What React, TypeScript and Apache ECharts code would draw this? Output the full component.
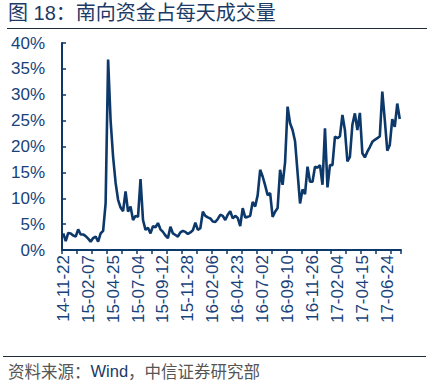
import React, { useEffect, useRef } from 'react';
import * as echarts from 'echarts';

const titleText = '图 18：南向资金占每天成交量';
const sourceLabel = '资料来源：';
const sourceWind = 'Wind';
const sourceRest = '，中信证券研究部';

const tickLabels = [
  '14-11-22', '15-02-07', '15-04-25', '15-07-04', '15-09-12', '15-11-28', '16-02-06',
  '16-04-23', '16-07-02', '16-09-10', '16-11-26', '17-02-04', '17-04-15', '17-06-24',
];

// Southbound share of daily turnover (%), weekly
const shareValues = [
  3.2, 1.7, 3.3, 3.2, 2.8, 2.6, 4.0, 3.0, 3.0, 2.7,
  2.2, 1.6, 2.3, 2.6, 1.6, 3.2, 3.7, 9.0, 36.8, 25.0,
  18.0, 13.0, 9.7, 8.2, 7.5, 11.3, 7.4, 8.4, 5.8, 6.6,
  6.4, 13.7, 5.8, 3.9, 4.3, 3.2, 4.6, 4.4, 5.2, 4.0,
  3.5, 2.8, 2.3, 4.5, 3.2, 2.9, 2.6, 3.4, 3.7, 3.5,
  3.1, 3.4, 3.8, 5.3, 3.9, 4.2, 7.4, 6.6, 6.3, 6.1,
  5.5, 5.4, 6.0, 6.8, 6.6, 5.8, 6.8, 7.5, 6.1, 6.6,
  6.2, 4.6, 8.1, 6.3, 6.4, 6.6, 9.3, 8.4, 10.6, 15.5,
  14.2, 12.5, 10.6, 11.0, 6.4, 7.4, 8.1, 15.5, 12.6, 17.0,
  27.7, 24.5, 23.2, 21.0, 15.0, 9.0, 11.7, 10.8, 16.1, 13.2,
  13.2, 16.1, 15.9, 16.4, 12.6, 23.5, 12.1, 16.4, 16.4, 21.9,
  21.6, 22.0, 26.1, 23.2, 17.1, 18.0, 24.2, 26.4, 23.2, 26.5,
  18.7, 17.9, 19.0, 19.9, 20.9, 21.3, 21.6, 22.0, 30.6, 25.1,
  19.2, 20.3, 25.3, 23.8, 28.3, 25.3,
];

const yMin = 0;
const yMax = 40;
const yStep = 5;
const labelEvery = 10;
const tickEvery = 6;

const NAVY = '#0c386a';
const LABEL = '#17427a';

export default function App() {
  const ref = useRef<HTMLDivElement>(null);

  useEffect(() => {
    if (!ref.current) return;
    const chart = echarts.init(ref.current, null, { renderer: 'svg' });
    chart.setOption({
      animation: false,
      backgroundColor: '#ffffff',
      grid: { left: 62, right: 43, top: 43, bottom: 133, containLabel: false },
      graphic: [
        {
          type: 'text',
          left: 8,
          top: 3,
          style: {
            text: titleText,
            fill: '#1b3a66',
            font: 'normal 20px "Liberation Sans", "Noto Sans CJK SC", sans-serif',
          },
        },
        {
          type: 'line',
          shape: { x1: 7, y1: 28.5, x2: 427, y2: 28.5 },
          style: { stroke: '#1d2b3a', lineWidth: 1 },
        },
        {
          type: 'line',
          shape: { x1: 3, y1: 356.5, x2: 426, y2: 356.5 },
          style: { stroke: '#1d2b3a', lineWidth: 1 },
        },
        {
          type: 'text',
          left: 8,
          top: 362,
          style: {
            text: '{g|' + sourceLabel + '}{b|' + sourceWind + '}{g|' + sourceRest + '}',
            rich: {
              g: { fill: '#555555', fontSize: 16.5, fontFamily: '"Noto Sans CJK SC", sans-serif' },
              b: { fill: '#1b3a66', fontSize: 16.5, fontFamily: '"Liberation Sans", sans-serif' },
            },
          },
        },
      ],
      xAxis: {
        type: 'category',
        boundaryGap: true,
        data: shareValues.map((_, i) => String(i)),
        axisLine: { show: true, lineStyle: { color: NAVY, width: 2 } },
        axisTick: {
          show: true,
          interval: tickEvery - 1,
          alignWithLabel: false,
          length: 4,
          lineStyle: { color: NAVY, width: 1.5 },
        },
        axisLabel: {
          interval: labelEvery - 1,
          rotate: 90,
          margin: 5,
          color: LABEL,
          fontSize: 17,
          fontFamily: '"Liberation Sans", Arial, sans-serif',
          formatter: (_v: string, idx: number) =>
            idx % labelEvery === 0 ? tickLabels[idx / labelEvery] ?? '' : '',
        },
        splitLine: { show: false },
      },
      yAxis: {
        type: 'value',
        min: yMin,
        max: yMax,
        interval: yStep,
        axisLine: { show: true, lineStyle: { color: NAVY, width: 2 } },
        axisTick: { show: true, inside: true, length: 4, lineStyle: { color: NAVY, width: 1.5 } },
        axisLabel: {
          formatter: '{value}%',
          margin: 17,
          color: LABEL,
          fontSize: 17,
          fontFamily: '"Liberation Sans", Arial, sans-serif',
        },
        splitLine: { show: false },
      },
      series: [
        {
          type: 'line',
          data: shareValues,
          symbol: 'none',
          smooth: false,
          lineStyle: { color: NAVY, width: 2.6 },
        },
      ],
    });
    return () => chart.dispose();
  }, []);

  return (
    <div
      ref={ref}
      style={{ position: 'fixed', left: 0, top: 0, width: 444, height: 383, background: '#fff' }}
    />
  );
}
